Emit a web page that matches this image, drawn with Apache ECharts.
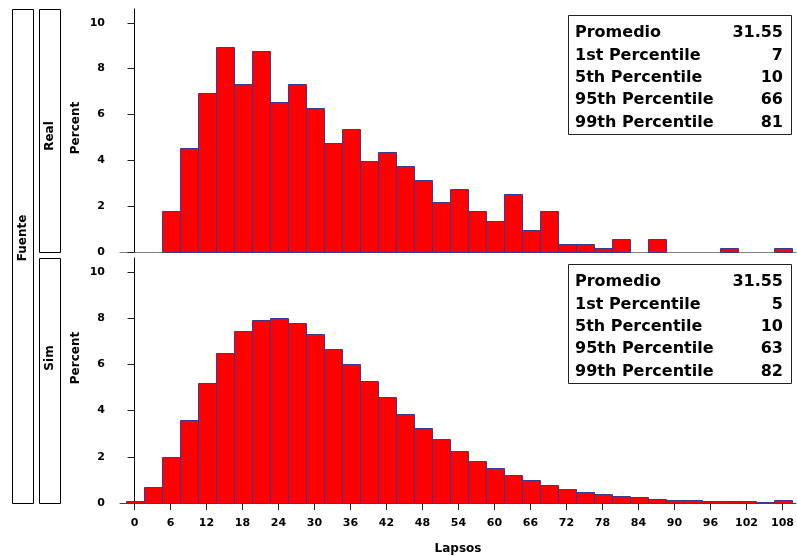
<!DOCTYPE html>
<html>
<head>
<meta charset="utf-8">
<script src="https://cdn.jsdelivr.net/npm/echarts@6/dist/echarts.min.js"></script>
<style>
html,body{margin:0;padding:0;background:#fff;}
#c{width:797px;height:556px;}
</style>
</head>
<body>
<div id="c"></div>
<script>
// Bin midpoints (Lapsos), bin width 3
const binMid = [0,3,6,9,12,15,18,21,24,27,30,33,36,39,42,45,48,51,54,57,60,63,66,69,72,75,78,81,84,87,90,93,96,99,102,105,108];
// Percent per bin, panel "Real"
const realPct = [0,0,1.8,4.55,6.95,8.95,7.35,8.75,6.55,7.35,6.3,4.75,5.35,3.95,4.35,3.75,3.15,2.2,2.75,1.8,1.35,2.55,0.95,1.8,0.35,0.35,0.18,0.55,0,0.55,0,0,0,0.18,0,0,0.18];
// Percent per bin, panel "Sim"
const simPct = [0.07,0.7,2.0,3.6,5.2,6.5,7.43,7.9,8.0,7.79,7.3,6.68,6.0,5.26,4.57,3.86,3.25,2.75,2.25,1.82,1.52,1.21,1.0,0.79,0.61,0.48,0.39,0.3,0.26,0.17,0.13,0.13,0.09,0.09,0.09,0.03,0.13];
// Tick labels
const xTicks = [0,6,12,18,24,30,36,42,48,54,60,66,72,78,84,90,96,102,108];
const yTicks = [0,2,4,6,8,10];
// Stats insets
const statLabels = ['Promedio','1st Percentile','5th Percentile','95th Percentile','99th Percentile'];
const realStats = ['31.55','7','10','66','81'];
const simStats = ['31.55','5','10','63','82'];
const panelNames = ['Real','Sim'];

const FONT = 'DejaVu Sans';
const chart = echarts.init(document.getElementById('c'), null, {renderer:'canvas'});

function bars(data, idx){
  return {
    type:'custom',
    xAxisIndex: idx, yAxisIndex: idx,
    data: binMid.map((m,i)=>[m, data[i]]),
    renderItem: function(params, api){
      const x = api.value(0), y = api.value(1);
      if (!(y > 0)) return null;
      const p1 = api.coord([x-1.5, y]);
      const p2 = api.coord([x+1.5, 0]);
      const x0 = Math.round(p1[0]) + 0.5, x1 = Math.round(p2[0]) + 0.5;
      const y0 = Math.round(p1[1]) + 0.5, y1 = Math.round(p2[1]) + 0.5;
      const shape = {x:x0, y:y0, width:x1-x0, height:Math.max(y1-y0, 1)};
      return {
        type:'group',
        children:[
          {type:'rect', shape:shape, z2:1, style:{fill:'#ff0000', stroke:null}},
          {type:'rect', shape:shape, z2:5, style:{fill:null, stroke:'#3c3a8e', lineWidth:1}}
        ]
      };
    }
  };
}

function xAxisCfg(idx, showLabels){
  return {
    type:'value', gridIndex: idx, min:-2.4167, max:110.25,
    splitLine:{show:false},
    axisLine:{show:true, lineStyle:{color: showLabels ? '#444' : '#808080', width:1}},
    axisTick:{show:showLabels, customValues:xTicks, length:7, lineStyle:{color:'#222'}},
    axisLabel:{show:showLabels, customValues:xTicks, margin:15, color:'#000', fontFamily:FONT, fontWeight:'bold', fontSize:11},
    name: showLabels ? 'Lapsos' : '',
    nameLocation:'middle', nameGap:40,
    nameTextStyle:{color:'#000', fontFamily:FONT, fontWeight:'bold', fontSize:12}
  };
}
function yAxisCfg(idx){
  return {
    type:'value', gridIndex: idx, min:0, max:10.6,
    splitLine:{show:false},
    axisLine:{show:true, lineStyle:{color:'#000', width:1}},
    axisTick:{show:true, customValues:yTicks, length:7, lineStyle:{color:'#222'}},
    axisLabel:{customValues:yTicks, margin:15, color:'#000', fontFamily:FONT, fontWeight:'bold', fontSize:11}
  };
}

function statBox(top, vals){
  const els = [{
    type:'rect', shape:{x:568.5, y:top+0.5, width:223, height:119},
    style:{fill:'#fff', stroke:'#222', lineWidth:1}, z:10
  }];
  statLabels.forEach((s,i)=>{
    const yy = top + 18 + i*22.4;
    els.push({type:'text', x:575, y:yy, z:11,
      style:{text:s, fill:'#000', font:'bold 16px "'+FONT+'"', textAlign:'left', textVerticalAlign:'middle'}});
    els.push({type:'text', x:783, y:yy, z:11,
      style:{text:vals[i], fill:'#000', font:'bold 16px "'+FONT+'"', textAlign:'right', textVerticalAlign:'middle'}});
  });
  return els;
}

function vtext(txt, x, y){
  return {type:'text', x:x, y:y, rotation:Math.PI/2, z:11,
    style:{text:txt, fill:'#000', font:'bold 12px "'+FONT+'"', textAlign:'center', textVerticalAlign:'middle'}};
}

const graphics = [
  {type:'rect', shape:{x:12.5, y:9.5, width:21, height:494}, style:{fill:'none', stroke:'#000', lineWidth:1}},
  {type:'rect', shape:{x:39.5, y:9.5, width:21, height:243}, style:{fill:'none', stroke:'#000', lineWidth:1}},
  {type:'rect', shape:{x:39.5, y:258.5, width:21, height:245}, style:{fill:'none', stroke:'#000', lineWidth:1}},
  vtext('Fuente', 23, 238),
  vtext(panelNames[0], 50, 136),
  vtext(panelNames[1], 50, 358),
  vtext('Percent', 76, 128),
  vtext('Percent', 76, 358)
].concat(statBox(15, realStats)).concat(statBox(264, simStats));

chart.setOption({
  animation:false,
  backgroundColor:'#fff',
  grid:[
    {left:120, top:9, width:676, height:243},
    {left:120, top:258, width:676, height:245.3}
  ],
  xAxis:[xAxisCfg(0,false), xAxisCfg(1,true)],
  yAxis:[yAxisCfg(0), yAxisCfg(1)],
  series:[bars(realPct,0), bars(simPct,1)],
  graphic: graphics
});
</script>
</body>
</html>
